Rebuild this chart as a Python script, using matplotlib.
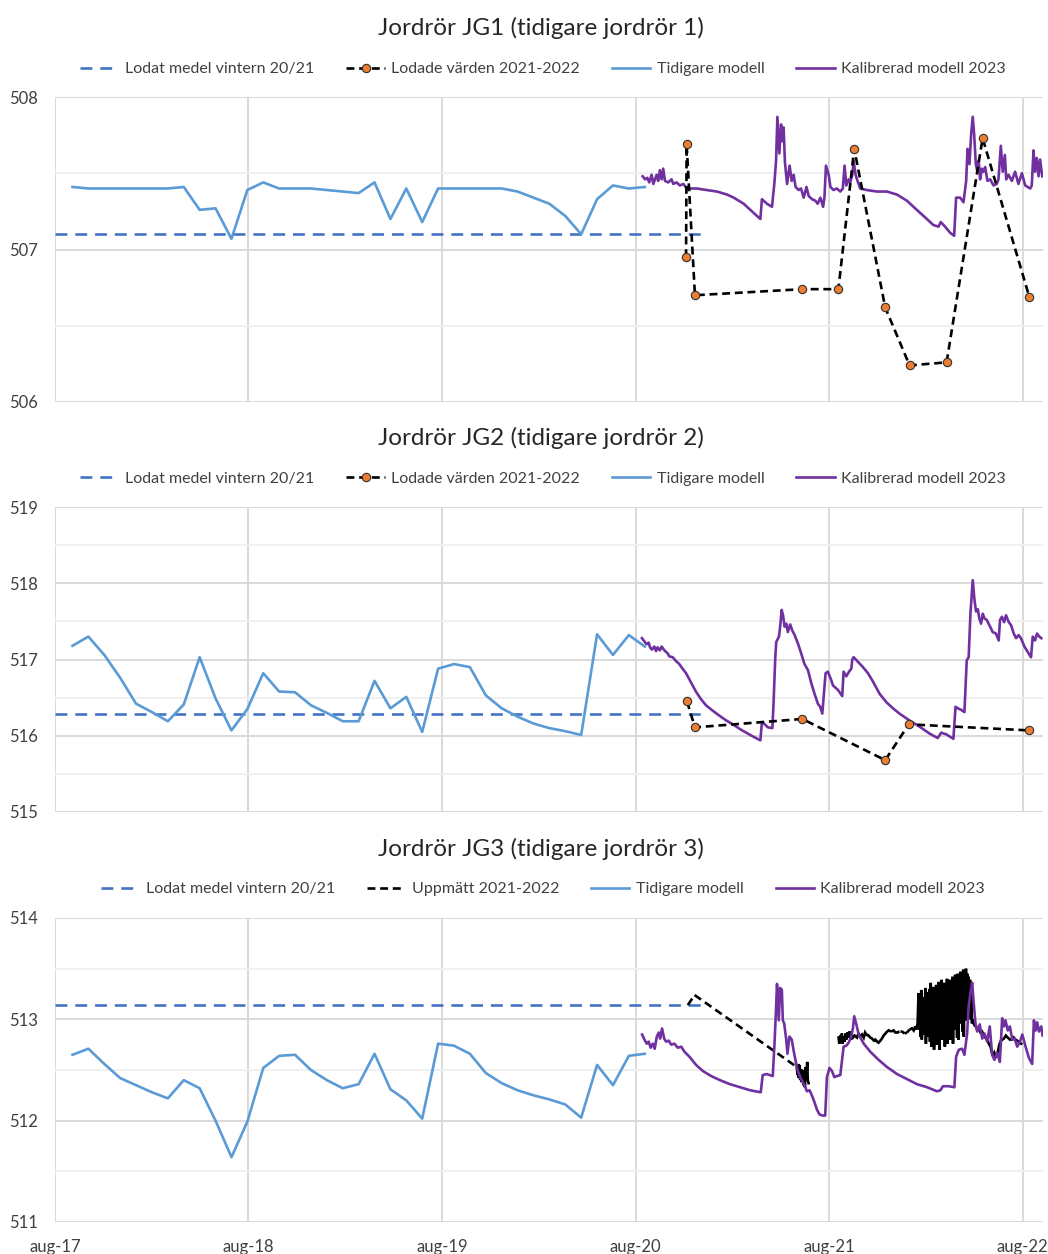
import matplotlib
matplotlib.use("Agg")
import matplotlib.pyplot as plt
import numpy as np
import pandas as pd
from datetime import datetime, timedelta
from matplotlib.lines import Line2D

# ---------------- data (x values in decimal years) ----------------
titles = ["Jordrör JG1 (tidigare jordrör 1)",
          "Jordrör JG2 (tidigare jordrör 2)",
          "Jordrör JG3 (tidigare jordrör 3)"]
year_ticks = [2017, 2018, 2019, 2020, 2021, 2022]
tick_labels = ["aug-17", "aug-18", "aug-19", "aug-20", "aug-21", "aug-22"]

# monthly "Tidigare modell" dates
tidigare_dates = pd.date_range("2017-09-03", periods=37, freq="30D")

jg1_tidigare = [507.41, 507.40, 507.40, 507.40, 507.40, 507.40, 507.40, 507.41, 507.26, 507.27,
                507.07, 507.39, 507.44, 507.40, 507.40, 507.40, 507.39, 507.38, 507.37, 507.44,
                507.20, 507.40, 507.18, 507.40, 507.40, 507.40, 507.40, 507.40, 507.38, 507.34,
                507.30, 507.22, 507.10, 507.33, 507.42, 507.40, 507.41]
jg2_tidigare = [517.18, 517.30, 517.06, 516.76, 516.42, 516.31, 516.19, 516.41, 517.03, 516.49,
                516.07, 516.35, 516.82, 516.58, 516.57, 516.40, 516.30, 516.19, 516.19, 516.72,
                516.36, 516.51, 516.05, 516.88, 516.94, 516.90, 516.53, 516.36, 516.25, 516.16,
                516.10, 516.06, 516.01, 517.33, 517.06, 517.32, 517.17]
jg3_tidigare = [512.65, 512.71, 512.56, 512.42, 512.35, 512.28, 512.22, 512.40, 512.32, 512.00,
                511.64, 511.99, 512.52, 512.64, 512.65, 512.50, 512.40, 512.32, 512.36, 512.66,
                512.31, 512.20, 512.02, 512.76, 512.74, 512.66, 512.47, 512.37, 512.30, 512.25,
                512.21, 512.16, 512.03, 512.55, 512.35, 512.64, 512.66]

# "Lodat medel vintern 20/21" (level, start, end)
medel_levels = [507.10, 516.29, 513.14]
medel_span = (2017.581, 2020.925)

jg1_lodade = [(2020.843, 506.95), (2020.846, 507.69), (2020.889, 506.70), (2021.442, 506.74),
              (2021.628, 506.74), (2021.710, 507.66), (2021.870, 506.62), (2021.996, 506.24),
              (2022.188, 506.26), (2022.374, 507.73), (2022.615, 506.69)]
jg2_lodade = [(2020.848, 516.45), (2020.889, 516.11), (2021.442, 516.22), (2021.870, 515.68),
              (2021.992, 516.15), (2022.615, 516.07)]

jg3_uppmatt_a = [(2020.852, 513.14), (2020.887, 513.24), (2021.413, 512.53), (2021.417, 512.45),
                 (2021.420, 512.56), (2021.424, 512.42), (2021.428, 512.55), (2021.431, 512.40),
                 (2021.435, 512.51), (2021.439, 512.38), (2021.443, 512.50), (2021.447, 512.35),
                 (2021.451, 512.47), (2021.455, 512.33), (2021.459, 512.53), (2021.463, 512.43),
                 (2021.467, 512.58), (2021.470, 512.40), (2021.474, 512.37)]
jg3_uppmatt_b = [(2021.629, 512.82), (2021.633, 512.76), (2021.638, 512.84), (2021.642, 512.78),
                 (2021.646, 512.86), (2021.650, 512.76), (2021.655, 512.83), (2021.660, 512.78),
                 (2021.665, 512.86), (2021.669, 512.80), (2021.675, 512.87), (2021.681, 512.82),
                 (2021.686, 512.88), (2021.690, 512.80), (2021.697, 512.85), (2021.703, 512.82),
                 (2021.712, 512.84), (2021.724, 512.82), (2021.732, 512.86), (2021.741, 512.83),
                 (2021.750, 512.85), (2021.759, 512.82), (2021.766, 512.87), (2021.772, 512.85),
                 (2021.784, 512.84), (2021.793, 512.82), (2021.802, 512.81), (2021.812, 512.79),
                 (2021.819, 512.80), (2021.828, 512.78), (2021.836, 512.77), (2021.845, 512.79),
                 (2021.853, 512.81), (2021.862, 512.84), (2021.871, 512.86), (2021.880, 512.88),
                 (2021.888, 512.89), (2021.900, 512.88), (2021.914, 512.89), (2021.922, 512.87),
                 (2021.931, 512.87), (2021.944, 512.88), (2021.957, 512.88), (2021.970, 512.86),
                 (2021.983, 512.87), (2021.996, 512.90), (2022.009, 512.91), (2022.018, 512.89),
                 (2022.026, 512.93), (2022.032, 512.90), (2022.038, 512.96),
                 (2022.043, 513.26), (2022.046, 512.90), (2022.050, 513.20), (2022.053, 512.83),
                 (2022.057, 513.29), (2022.060, 512.80), (2022.064, 513.22), (2022.067, 512.93),
                 (2022.071, 513.18), (2022.074, 512.85), (2022.078, 513.31), (2022.081, 512.76),
                 (2022.085, 513.25), (2022.088, 512.90), (2022.092, 513.27), (2022.095, 512.83),
                 (2022.099, 513.30), (2022.102, 512.78), (2022.106, 513.36), (2022.109, 512.73),
                 (2022.113, 513.28), (2022.116, 512.88), (2022.120, 513.32), (2022.123, 512.70),
                 (2022.127, 513.25), (2022.130, 512.82), (2022.134, 513.34), (2022.137, 512.75),
                 (2022.141, 513.30), (2022.144, 512.86), (2022.148, 513.37), (2022.151, 512.70),
                 (2022.155, 513.33), (2022.158, 512.90), (2022.162, 513.39), (2022.165, 512.80),
                 (2022.169, 513.30), (2022.172, 512.85), (2022.176, 513.36), (2022.179, 512.73),
                 (2022.183, 513.33), (2022.186, 512.88), (2022.190, 513.40), (2022.193, 512.76),
                 (2022.197, 513.35), (2022.200, 512.92), (2022.204, 513.39), (2022.207, 512.80),
                 (2022.211, 513.36), (2022.214, 512.86), (2022.218, 513.42), (2022.221, 512.76),
                 (2022.225, 513.38), (2022.228, 512.95), (2022.232, 513.44), (2022.235, 512.90),
                 (2022.239, 513.40), (2022.242, 512.82), (2022.246, 513.45), (2022.249, 512.80),
                 (2022.253, 513.41), (2022.256, 512.98), (2022.260, 513.47), (2022.263, 512.96),
                 (2022.267, 513.43), (2022.270, 512.88), (2022.274, 513.49), (2022.277, 512.83),
                 (2022.281, 513.46), (2022.284, 513.02), (2022.288, 513.50), (2022.291, 512.99),
                 (2022.295, 513.45), (2022.298, 513.05), (2022.302, 513.42), (2022.305, 513.03),
                 (2022.309, 513.39), (2022.312, 513.00), (2022.316, 513.30), (2022.318, 512.96),
                 (2022.325, 512.98), (2022.332, 512.94), (2022.339, 512.93), (2022.346, 512.90),
                 (2022.354, 512.91), (2022.363, 512.87), (2022.371, 512.88), (2022.380, 512.84),
                 (2022.388, 512.82), (2022.397, 512.80), (2022.406, 512.76), (2022.415, 512.73),
                 (2022.421, 512.68), (2022.428, 512.65), (2022.434, 512.67), (2022.441, 512.62),
                 (2022.447, 512.66), (2022.453, 512.68), (2022.459, 512.74), (2022.466, 512.78),
                 (2022.475, 512.80), (2022.484, 512.81), (2022.494, 512.84), (2022.504, 512.82),
                 (2022.515, 512.80), (2022.527, 512.80), (2022.535, 512.82), (2022.544, 512.80),
                 (2022.552, 512.79), (2022.561, 512.78), (2022.567, 512.77), (2022.573, 512.76)]

jg1_kalibrerad = [
    (2020.619, 507.48), (2020.631, 507.46), (2020.643, 507.47), (2020.653, 507.44), (2020.665, 507.49),
    (2020.674, 507.43), (2020.691, 507.49), (2020.699, 507.45), (2020.708, 507.52), (2020.717, 507.46),
    (2020.725, 507.53), (2020.734, 507.45), (2020.751, 507.44), (2020.768, 507.46), (2020.777, 507.43),
    (2020.794, 507.44), (2020.811, 507.42), (2020.829, 507.43), (2020.846, 507.40), (2020.863, 507.40),
    (2020.898, 507.40), (2020.949, 507.39), (2021.001, 507.38), (2021.053, 507.36), (2021.087, 507.34),
    (2021.139, 507.30), (2021.190, 507.24), (2021.225, 507.20), (2021.233, 507.33), (2021.259, 507.30),
    (2021.285, 507.28), (2021.297, 507.43), (2021.306, 507.58), (2021.313, 507.87), (2021.323, 507.63),
    (2021.332, 507.82), (2021.340, 507.71), (2021.345, 507.80), (2021.352, 507.57), (2021.363, 507.43),
    (2021.376, 507.55), (2021.387, 507.45), (2021.397, 507.49), (2021.407, 507.41), (2021.423, 507.39),
    (2021.435, 507.40), (2021.449, 507.34), (2021.463, 507.41), (2021.475, 507.35), (2021.492, 507.33),
    (2021.509, 507.32), (2021.521, 507.30), (2021.535, 507.34), (2021.549, 507.28), (2021.556, 507.34),
    (2021.564, 507.55), (2021.578, 507.49), (2021.587, 507.41), (2021.603, 507.39), (2021.620, 507.40),
    (2021.638, 507.38), (2021.651, 507.40), (2021.660, 507.55), (2021.669, 507.42), (2021.681, 507.46),
    (2021.689, 507.44), (2021.700, 507.49), (2021.707, 507.58), (2021.717, 507.49), (2021.727, 507.45),
    (2021.741, 507.40), (2021.775, 507.39), (2021.827, 507.38), (2021.879, 507.38), (2021.931, 507.36),
    (2021.982, 507.32), (2022.034, 507.26), (2022.086, 507.20), (2022.120, 507.16), (2022.146, 507.15),
    (2022.158, 507.18), (2022.180, 507.15), (2022.206, 507.11), (2022.227, 507.09), (2022.237, 507.34),
    (2022.258, 507.34), (2022.275, 507.31), (2022.289, 507.45), (2022.296, 507.66), (2022.306, 507.56),
    (2022.315, 507.76), (2022.323, 507.87), (2022.330, 507.76), (2022.339, 507.56), (2022.347, 507.51),
    (2022.354, 507.58), (2022.361, 507.46), (2022.370, 507.53), (2022.378, 507.51), (2022.387, 507.54),
    (2022.399, 507.45), (2022.413, 507.46), (2022.430, 507.42), (2022.447, 507.43), (2022.456, 507.46),
    (2022.468, 507.68), (2022.478, 507.51), (2022.489, 507.62), (2022.496, 507.46), (2022.508, 507.49),
    (2022.525, 507.45), (2022.542, 507.51), (2022.559, 507.43), (2022.577, 507.50), (2022.594, 507.42),
    (2022.620, 507.40), (2022.628, 507.42), (2022.637, 507.65), (2022.645, 507.51), (2022.654, 507.60),
    (2022.663, 507.48), (2022.671, 507.59), (2022.682, 507.48)]

jg2_kalibrerad = [
    (2020.615, 517.28), (2020.627, 517.24), (2020.639, 517.20), (2020.650, 517.22), (2020.657, 517.16),
    (2020.667, 517.13), (2020.679, 517.17), (2020.688, 517.11), (2020.696, 517.16), (2020.708, 517.12),
    (2020.717, 517.17), (2020.731, 517.12), (2020.748, 517.08), (2020.757, 517.04), (2020.774, 517.03),
    (2020.791, 516.98), (2020.808, 516.94), (2020.825, 516.88), (2020.843, 516.82), (2020.860, 516.74),
    (2020.877, 516.66), (2020.894, 516.58), (2020.920, 516.48), (2020.946, 516.40), (2020.980, 516.33),
    (2021.015, 516.26), (2021.049, 516.20), (2021.083, 516.15), (2021.118, 516.09), (2021.152, 516.04),
    (2021.187, 515.99), (2021.225, 515.94), (2021.233, 516.18), (2021.247, 516.15), (2021.264, 516.11),
    (2021.287, 516.10), (2021.293, 516.42), (2021.302, 517.03), (2021.307, 517.23), (2021.321, 517.30),
    (2021.328, 517.45), (2021.335, 517.65), (2021.342, 517.58), (2021.350, 517.43), (2021.359, 517.47),
    (2021.367, 517.36), (2021.379, 517.46), (2021.390, 517.38), (2021.402, 517.32), (2021.419, 517.21),
    (2021.436, 517.08), (2021.453, 516.94), (2021.471, 516.86), (2021.488, 516.69), (2021.505, 516.55),
    (2021.522, 516.42), (2021.534, 516.38), (2021.545, 516.29), (2021.552, 516.51), (2021.562, 516.82),
    (2021.574, 516.84), (2021.591, 516.73), (2021.600, 516.66), (2021.626, 516.60), (2021.648, 516.52),
    (2021.655, 516.84), (2021.669, 516.78), (2021.683, 516.84), (2021.695, 516.88), (2021.700, 517.00),
    (2021.707, 517.03), (2021.729, 516.97), (2021.755, 516.90), (2021.781, 516.82), (2021.807, 516.71),
    (2021.841, 516.55), (2021.876, 516.44), (2021.910, 516.36), (2021.944, 516.29), (2021.996, 516.20),
    (2022.048, 516.12), (2022.099, 516.03), (2022.142, 515.97), (2022.160, 516.04), (2022.185, 516.02),
    (2022.223, 515.96), (2022.234, 516.38), (2022.246, 516.36), (2022.263, 516.34), (2022.280, 516.31),
    (2022.292, 516.99), (2022.302, 517.03), (2022.311, 517.60), (2022.323, 518.04), (2022.332, 517.78),
    (2022.340, 517.63), (2022.349, 517.66), (2022.357, 517.54), (2022.366, 517.47), (2022.375, 517.60),
    (2022.383, 517.54), (2022.395, 517.52), (2022.409, 517.45), (2022.426, 517.36), (2022.443, 517.34),
    (2022.457, 517.25), (2022.464, 517.52), (2022.474, 517.56), (2022.485, 517.49), (2022.495, 517.58),
    (2022.509, 517.49), (2022.521, 517.45), (2022.535, 517.34), (2022.547, 517.28), (2022.560, 517.32),
    (2022.572, 517.28), (2022.590, 517.17), (2022.607, 517.10), (2022.624, 517.03), (2022.633, 517.30),
    (2022.645, 517.25), (2022.655, 517.34), (2022.667, 517.30), (2022.677, 517.28)]

jg3_kalibrerad = [
    (2020.616, 512.85), (2020.628, 512.80), (2020.640, 512.76), (2020.650, 512.78), (2020.660, 512.72),
    (2020.671, 512.76), (2020.681, 512.71), (2020.692, 512.83), (2020.702, 512.87), (2020.709, 512.81),
    (2020.719, 512.91), (2020.730, 512.81), (2020.740, 512.78), (2020.754, 512.79), (2020.766, 512.75),
    (2020.783, 512.76), (2020.800, 512.72), (2020.818, 512.73), (2020.835, 512.68), (2020.861, 512.63),
    (2020.895, 512.55), (2020.930, 512.49), (2020.973, 512.44), (2021.016, 512.40), (2021.068, 512.36),
    (2021.120, 512.33), (2021.172, 512.30), (2021.227, 512.28), (2021.237, 512.45), (2021.258, 512.46),
    (2021.289, 512.44), (2021.298, 512.76), (2021.305, 513.06), (2021.311, 513.35), (2021.320, 512.99),
    (2021.327, 513.31), (2021.336, 513.29), (2021.341, 512.99), (2021.348, 512.96), (2021.358, 512.81),
    (2021.365, 512.66), (2021.375, 512.83), (2021.387, 512.80), (2021.396, 512.70), (2021.406, 512.60),
    (2021.417, 512.50), (2021.431, 512.43), (2021.444, 512.38), (2021.456, 512.34), (2021.465, 512.29),
    (2021.479, 512.30), (2021.491, 512.25), (2021.503, 512.19), (2021.517, 512.11), (2021.531, 512.06),
    (2021.548, 512.05), (2021.560, 512.05), (2021.569, 512.43), (2021.582, 512.52), (2021.595, 512.49),
    (2021.607, 512.43), (2021.620, 512.44), (2021.638, 512.45), (2021.655, 512.73), (2021.669, 512.74),
    (2021.681, 512.77), (2021.693, 512.82), (2021.703, 512.91), (2021.710, 513.03), (2021.721, 512.95),
    (2021.733, 512.85), (2021.759, 512.76), (2021.793, 512.68), (2021.836, 512.60), (2021.879, 512.53),
    (2021.931, 512.46), (2021.983, 512.41), (2022.035, 512.36), (2022.087, 512.33), (2022.138, 512.29),
    (2022.156, 512.30), (2022.169, 512.34), (2022.199, 512.34), (2022.228, 512.33), (2022.237, 512.63),
    (2022.251, 512.70), (2022.268, 512.71), (2022.280, 512.65), (2022.294, 512.86), (2022.302, 513.13),
    (2022.311, 513.26), (2022.320, 513.36), (2022.328, 513.16), (2022.337, 512.96), (2022.346, 512.88),
    (2022.359, 512.95), (2022.372, 512.81), (2022.384, 512.86), (2022.397, 512.78), (2022.411, 512.93),
    (2022.423, 512.65), (2022.435, 512.60), (2022.449, 512.67), (2022.463, 512.58), (2022.475, 513.01),
    (2022.484, 512.93), (2022.492, 512.99), (2022.504, 512.89), (2022.515, 512.93), (2022.527, 512.80),
    (2022.539, 512.81), (2022.553, 512.73), (2022.567, 512.78), (2022.579, 512.85), (2022.596, 512.73),
    (2022.613, 512.62), (2022.630, 512.56), (2022.639, 512.99), (2022.648, 512.89), (2022.656, 512.97),
    (2022.665, 512.88), (2022.677, 512.93), (2022.684, 512.84)]

y_ranges = [(506, 508), (515, 519), (511, 514)]
x_range = (2017.581, 2022.686)

# ---------------- helpers ----------------
def yr2dt(y):
    yi = int(y)
    return datetime(yi, 1, 1) + timedelta(days=(y - yi) * 365.25)

def unzip(pairs):
    return [yr2dt(p[0]) for p in pairs], [p[1] for p in pairs]

C_MEDEL = "#4472C4"
C_TID = "#5B9BD5"
C_KAL = "#7030A0"
C_ORANGE = "#ED7D31"
TXT = "#404040"
FONT = ["Lato", "DejaVu Sans"]
plt.rcParams["font.family"] = FONT

fig = plt.figure(figsize=(10.48, 12.54), dpi=100)
W, H = 1048, 1254
panels = [(97, 402), (507, 812), (918, 1222)]
title_y = [28, 438, 849]
legend_y = [69, 479, 889]

medel_style = dict(color=C_MEDEL, lw=1.9, ls=(0, (4.5, 3)))
black_style = dict(color="black", lw=1.9, ls=(0, (3, 1.8)))
tid_style = dict(color=C_TID, lw=1.9)
kal_style = dict(color=C_KAL, lw=1.9)


def plot_measured(ax, pairs, zorder):
    """Excel-like dashed series: long gaps drawn dashed, dense runs look solid."""
    xs, ys = unzip(pairs)
    ts = [p[0] for p in pairs]
    run = [0]
    for k in range(1, len(pairs)):
        gap = ts[k] - ts[k - 1]
        if gap > 0.012:
            if len(run) > 1:
                ax.plot([xs[j] for j in run], [ys[j] for j in run], color="black", lw=1.9,
                        solid_joinstyle="miter", zorder=zorder)
            ax.plot([xs[k - 1], xs[k]], [ys[k - 1], ys[k]], zorder=zorder, **black_style)
            run = [k]
        else:
            run.append(k)
    if len(run) > 1:
        ax.plot([xs[j] for j in run], [ys[j] for j in run], color="black", lw=1.9,
                solid_joinstyle="miter", zorder=zorder)


tidigare = [jg1_tidigare, jg2_tidigare, jg3_tidigare]
kalibrerad = [jg1_kalibrerad, jg2_kalibrerad, jg3_kalibrerad]
lodade = [jg1_lodade, jg2_lodade, None]

for i in range(3):
    top, bot = panels[i]
    ax = fig.add_axes([55 / W, 1 - bot / H, 988 / W, (bot - top) / H])
    ylo, yhi = y_ranges[i]

    ax.plot([yr2dt(medel_span[0]), yr2dt(medel_span[1])], [medel_levels[i]] * 2,
            zorder=3, **medel_style)
    ax.plot(tidigare_dates, tidigare[i], zorder=4, **tid_style)

    kx, ky = unzip(kalibrerad[i])
    if lodade[i] is not None:
        ax.plot(kx, ky, zorder=5, **kal_style)
        lx, ly = unzip(lodade[i])
        ax.plot(lx, ly, marker="o", ms=6, mfc=C_ORANGE, mec="#303030", mew=0.8,
                zorder=6, **black_style)
        lab2 = "Lodade värden 2021-2022"
        h2 = Line2D([], [], marker="o", ms=6, mfc=C_ORANGE, mec="#303030", mew=0.8, **black_style)
    else:
        plot_measured(ax, jg3_uppmatt_a, 5)
        plot_measured(ax, jg3_uppmatt_b, 5)
        ax.plot(kx, ky, zorder=6, **kal_style)
        lab2 = "Uppmätt 2021-2022"
        h2 = Line2D([], [], **black_style)

    ax.set_xlim(yr2dt(x_range[0]), yr2dt(x_range[1]))
    ax.set_ylim(ylo, yhi)
    ax.set_yticks(np.arange(ylo, yhi + 1, 1))
    ax.set_yticks(np.arange(ylo + 0.5, yhi, 1), minor=True)
    ax.set_xticks([datetime(y, 8, 1) for y in year_ticks])
    ax.grid(which="major", color="#d9d9d9", lw=1.4)
    ax.grid(which="minor", axis="y", color="#f0f0f0", lw=1.4)
    ax.set_axisbelow(True)
    for s in ax.spines.values():
        s.set_visible(False)
    ax.tick_params(which="both", length=0, labelsize=12, labelcolor=TXT)
    ax.tick_params(axis="y", pad=12)
    ax.tick_params(axis="x", pad=12)
    ax.set_yticklabels([str(v) for v in range(ylo, yhi + 1)])
    if i == 2:
        ax.set_xticklabels(tick_labels)
    else:
        ax.tick_params(axis="x", labelbottom=False)

    fig.text(541 / W, 1 - title_y[i] / H, titles[i], ha="center", va="center",
             fontsize=17.5, color="#262626")

    handles = [Line2D([], [], **medel_style), h2,
               Line2D([], [], **tid_style), Line2D([], [], **kal_style)]
    labels = ["Lodat medel vintern 20/21", lab2, "Tidigare modell", "Kalibrerad modell 2023"]
    leg = ax.legend(handles, labels, loc="center", bbox_to_anchor=(543 / W, 1 - legend_y[i] / H),
                    bbox_transform=fig.transFigure, ncol=4, frameon=False, fontsize=11.5,
                    handlelength=2.4, handletextpad=0.4, columnspacing=2.0, borderaxespad=0)
    for t in leg.get_texts():
        t.set_color(TXT)

fig.savefig("out.png", dpi=100, facecolor="white")
